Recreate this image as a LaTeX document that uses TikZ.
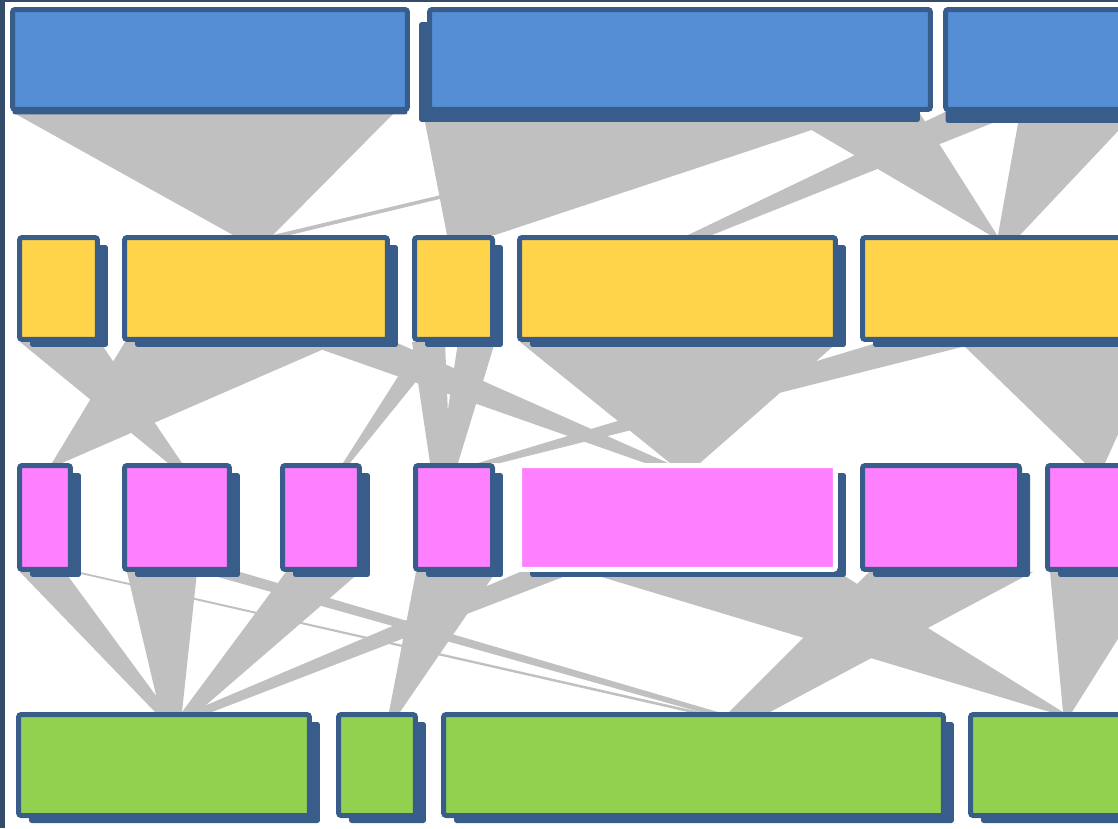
\documentclass[tikz,border=0pt]{standalone}
\usepackage{tikz}
\usetikzlibrary{shadows,backgrounds}
\definecolor{cellline}{RGB}{56,93,138}
\definecolor{cellblue}{RGB}{85,142,213}
\definecolor{cellyellow}{RGB}{255,212,75}
\definecolor{cellpink}{RGB}{255,128,255}
\definecolor{cellgreen}{RGB}{146,208,80}
\definecolor{bandgray}{RGB}{192,192,192}
\definecolor{framecol}{RGB}{52,75,105}
\newcommand{\band}[6]{\fill[flowband] (#2,0 |- #1.south) -- (#3,0 |- #1.south) -- (#6,0 |- #4.north) -- (#5,0 |- #4.north) -- cycle;}
\begin{document}
\begin{tikzpicture}[x=0.02cm,y=-0.02cm,
  cell/.style={draw=cellline,line width=0.1cm,rounded corners=1.5pt,inner sep=0pt},
  cellshadow/.style 2 args={drop shadow={shadow xshift=#1,shadow yshift=#2,opacity=1,fill=cellline}},
  bluecell/.style={cell,fill=cellblue,minimum height=2cm},
  yellowcell/.style={cell,fill=cellyellow,minimum height=2.04cm,cellshadow={0.21cm}{-0.15cm}},
  pinkcell/.style={cell,fill=cellpink,minimum height=2.08cm,cellshadow={0.21cm}{-0.15cm}},
  greencell/.style={cell,fill=cellgreen,minimum height=2.02cm,cellshadow={0.21cm}{-0.15cm}},
  flowband/.style={fill=bandgray}
]
\useasboundingbox (0,0) rectangle (1118,828);

\node[bluecell,cellshadow={0cm}{-0.1cm},minimum width=7.9cm] (b1) at (210,59.5) {};
\node[bluecell,cellshadow={-0.21cm}{-0.25cm},minimum width=10.02cm] (b2) at (680,59.5) {};
\node[bluecell,cellshadow={0cm}{-0.27cm},minimum width=3.64cm] (b3) at (1036.5,59.5) {};

\node[yellowcell,minimum width=1.56cm] (y1) at (58.5,288.5) {};
\node[yellowcell,minimum width=5.26cm] (y2) at (256,288.5) {};
\node[yellowcell,minimum width=1.56cm] (y3) at (453.5,288.5) {};
\node[yellowcell,minimum width=6.32cm] (y4) at (677.5,288.5) {};
\node[yellowcell,minimum width=5.3cm] (y5) at (995,288.5) {};

\node[pinkcell,minimum width=1.02cm] (p1) at (45,517.5) {};
\node[pinkcell,minimum width=2.1cm] (p2) at (177,517.5) {};
\node[pinkcell,minimum width=1.54cm] (p3) at (321,517.5) {};
\node[pinkcell,minimum width=1.54cm] (p4) at (454,517.5) {};
\node[pinkcell,draw=white,minimum width=6.32cm] (p5) at (677.5,517.5) {};
\node[pinkcell,minimum width=3.14cm] (p6) at (941,517.5) {};
\node[pinkcell,minimum width=1.6cm] (p7) at (1087.5,517.5) {};

\node[greencell,minimum width=5.82cm] (g1) at (164,765) {};
\node[greencell,minimum width=1.54cm] (g2) at (377,765) {};
\node[greencell,minimum width=10cm] (g3) at (693.5,765) {};
\node[greencell,minimum width=3.14cm] (g4) at (1049,765) {};

\begin{scope}[on background layer]
\band{b1}{12}{395}{y2}{233}{273}
\band{b2}{423}{866}{y3}{447}{495}
\band{b2}{790}{801}{y2}{273}{290}
\band{b2}{781}{919}{y5}{990}{997}
\band{b3}{945}{1020}{y4}{688}{712}
\band{b3}{1020}{1136}{y5}{998}{1020}

\band{y1}{20}{100}{p2}{168}{182}
\band{y2}{125}{340}{p1}{52}{62}
\band{y2}{300}{395}{p5}{645}{668}
\band{y3}{412}{445}{p4}{430}{450}
\band{y3}{458}{495}{p4}{440}{458}
\band{y3}{420}{448}{p3}{343}{350}
\band{y4}{520}{838}{p5}{670}{700}
\band{y5}{880}{982}{p4}{478}{500}
\band{y5}{960}{1160}{p7}{1085}{1105}

\band{p1}{20}{65}{g1}{155}{168}
\band{p1}{72}{80}{g3}{688}{700}
\band{p2}{127}{197}{g1}{160}{182}
\band{p2}{200}{240}{g3}{700}{718}
\band{p3}{286}{360}{g1}{182}{198}
\band{p4}{416}{496}{g2}{389}{400}
\band{p5}{520}{576}{g1}{190}{212}
\band{p5}{585}{838}{g4}{1050}{1063}
\band{p6}{869}{1033}{g3}{729}{770}
\band{p7}{1050}{1160}{g4}{1063}{1072}
\end{scope}

\fill[framecol] (0,0) rectangle (5,828);
\fill[framecol] (0,0) rectangle (1118,2.5);
\end{tikzpicture}
\end{document}
